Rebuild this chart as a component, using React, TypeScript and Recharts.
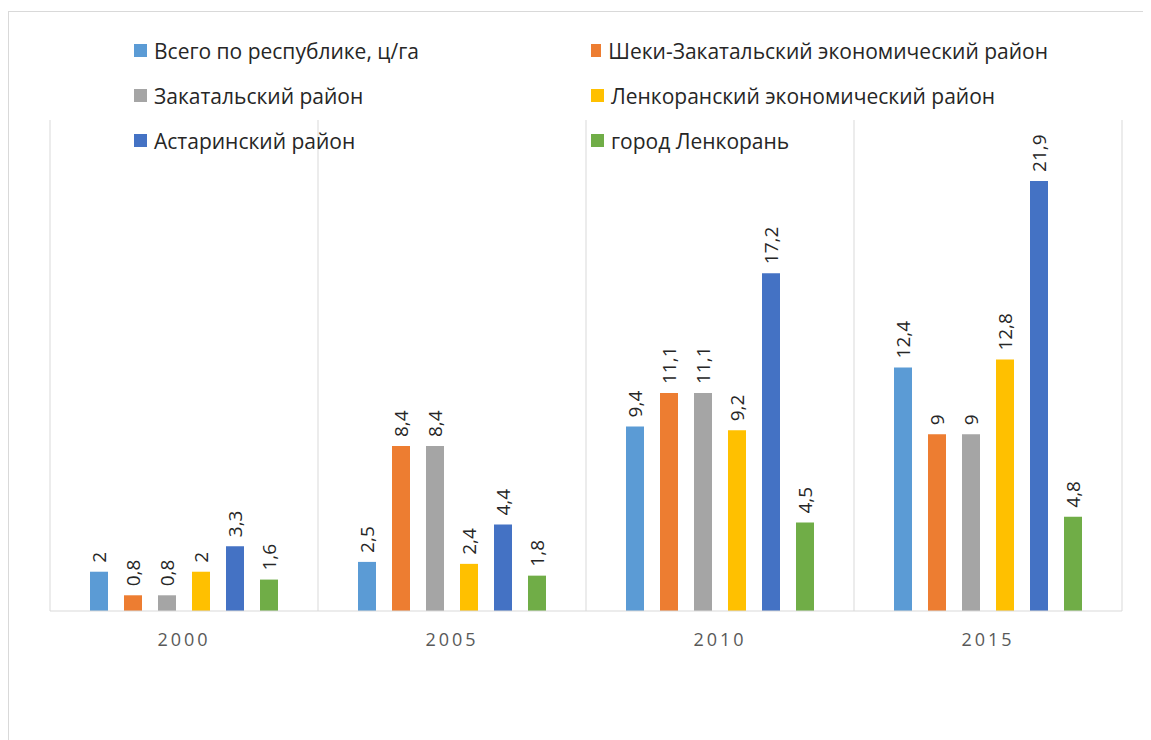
import { Bar, BarChart, CartesianGrid, LabelList, Legend, XAxis, YAxis } from "recharts";

const years = ["2000", "2005", "2010", "2015"];

const totalRepublic = [2, 2.5, 9.4, 12.4];
const shekiZakatala = [0.8, 8.4, 11.1, 9];
const zakatala = [0.8, 8.4, 11.1, 9];
const lankaranRegion = [2, 2.4, 9.2, 12.8];
const astara = [3.3, 4.4, 17.2, 21.9];
const lankaranCity = [1.6, 1.8, 4.5, 4.8];

const series = [
  { key: "total", name: "Всего по республике, ц/га", values: totalRepublic, color: "#5B9BD5" },
  { key: "sheki", name: "Шеки-Закатальский экономический район", values: shekiZakatala, color: "#ED7D31" },
  { key: "zakatala", name: "Закатальский район", values: zakatala, color: "#A5A5A5" },
  { key: "lankaranReg", name: "Ленкоранский экономический район", values: lankaranRegion, color: "#FFC000" },
  { key: "astara", name: "Астаринский район", values: astara, color: "#4472C4" },
  { key: "lankaranCity", name: "город Ленкорань", values: lankaranCity, color: "#70AD47" },
];

const chartData = years.map((year, i) => {
  const row: Record<string, string | number> = { year };
  series.forEach((s) => {
    row[s.key] = s.values[i];
  });
  return row;
});

const FONT = "'Open Sans', sans-serif";

function ValueLabel(props: any) {
  const { x, y, width, value } = props;
  const cx = Number(x) + Number(width) / 2;
  const ty = Number(y) - 9;
  return (
    <text
      x={cx}
      y={ty}
      transform={`rotate(-90, ${cx}, ${ty})`}
      textAnchor="start"
      dominantBaseline="central"
      fontSize={19}
      fontFamily={FONT}
      fill="#262626"
    >
      {String(value).replace(".", ",")}
    </text>
  );
}

function LegendBox() {
  return (
    <div
      style={{
        display: "grid",
        gridTemplateColumns: "457px 457px",
        fontFamily: FONT,
        fontSize: 21,
        color: "#262626",
      }}
    >
      {series.map((s) => (
        <div
          key={s.key}
          style={{ display: "flex", alignItems: "center", height: 45, whiteSpace: "nowrap" }}
        >
          <span
            style={{
              display: "inline-block",
              width: 13,
              height: 13,
              background: s.color,
              marginRight: 7,
            }}
          />
          {s.name}
        </div>
      ))}
    </div>
  );
}

export default function App() {
  return (
    <div
      style={{
        position: "relative",
        top: 3,
        width: 1170,
        height: 760,
        border: "1px solid #d9d9d9",
        boxSizing: "border-box",
        background: "#fff",
      }}
    >
      <BarChart
        width={1140}
        height={700}
        data={chartData}
        margin={{ top: 108, right: 27, left: 41, bottom: 61 }}
        barSize={18}
        barGap={16}
      >
        <CartesianGrid
          horizontal={false}
          stroke="#d9d9d9"
          verticalCoordinatesGenerator={({ offset }: any) => {
            const pts: number[] = [];
            for (let i = 0; i <= years.length; i++) {
              pts.push(offset.left + (offset.width * i) / years.length);
            }
            return pts;
          }}
        />
        <XAxis
          dataKey="year"
          height={40}
          tickLine={false}
          axisLine={{ stroke: "#d9d9d9" }}
          tickMargin={16}
          tick={{ fontSize: 18, fill: "#595959", fontFamily: FONT, letterSpacing: 3 }}
        />
        <YAxis hide domain={[0, 25]} />
        <Legend
          layout="horizontal"
          verticalAlign="middle"
          align="center"
          content={() => <LegendBox />}
          wrapperStyle={{ position: "absolute", top: 16, left: 125, width: 920, height: 135 }}
        />
        {series.map((s) => (
          <Bar key={s.key} dataKey={s.key} name={s.name} fill={s.color} isAnimationActive={false}>
            <LabelList dataKey={s.key} content={ValueLabel} />
          </Bar>
        ))}
      </BarChart>
    </div>
  );
}
